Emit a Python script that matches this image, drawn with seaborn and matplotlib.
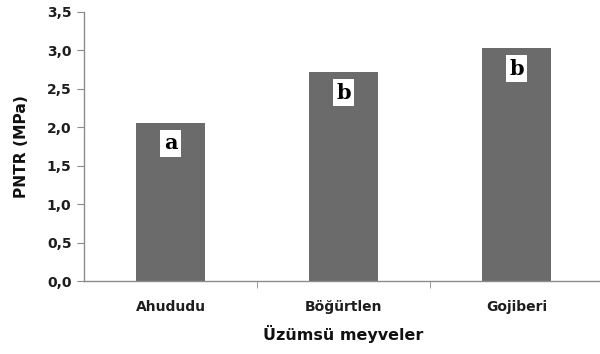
import matplotlib
matplotlib.use("Agg")
import matplotlib.pyplot as plt
import seaborn as sns
import pandas as pd
from matplotlib.ticker import FixedLocator, FixedFormatter

categories = ["Ahududu", "Böğürtlen", "Gojiberi"]
values = [2.06, 2.72, 3.03]
letters = ["a", "b", "b"]
yticks = [0.0, 0.5, 1.0, 1.5, 2.0, 2.5, 3.0, 3.5]
ytick_labels = ["0,0", "0,5", "1,0", "1,5", "2,0", "2,5", "3,0", "3,5"]

sns.set_style("white")
plt.rcParams['font.family'] = ['DejaVu Sans']

df = pd.DataFrame({"cat": categories, "val": values})

fig = plt.figure(figsize=(6, 3.54), dpi=100)
ax = fig.add_axes([0.14, 0.2062, 0.865, 0.76])
sns.barplot(data=df, x="cat", y="val", color="#6b6b6b", saturation=1,
            width=0.4, ax=ax, edgecolor="none")

ax.set_xlim(-0.5, 2.5)
ax.set_ylim(0, 3.5)
ax.yaxis.set_major_locator(FixedLocator(yticks))
ax.yaxis.set_major_formatter(FixedFormatter(ytick_labels))

for i, (v, l) in enumerate(zip(values, letters)):
    ax.text(i, v - 0.14, l, ha="center", va="top", family="DejaVu Serif",
            fontweight="bold", fontsize=15, color="black",
            bbox=dict(facecolor="white", edgecolor="none", pad=2.5))

for s in ["top", "right"]:
    ax.spines[s].set_visible(False)
for s in ["left", "bottom"]:
    ax.spines[s].set_color("#8c8c8c")
    ax.spines[s].set_linewidth(1)

ax.tick_params(axis="y", which="major", left=True, length=5, color="#8c8c8c",
               labelsize=10, labelcolor="#1e1e1e", pad=4)
ax.tick_params(axis="x", which="major", bottom=False, labelsize=10,
               labelcolor="#1e1e1e", pad=10)
ax.xaxis.set_minor_locator(FixedLocator([0.5, 1.5]))
ax.tick_params(axis="x", which="minor", bottom=True, length=5, color="#8c8c8c")

for lab in ax.get_xticklabels() + ax.get_yticklabels():
    lab.set_fontweight("bold")

ax.set_xlabel("Üzümsü meyveler", fontsize=11.5, fontweight="bold",
              color="#111111", labelpad=8)
ax.set_ylabel("PNTR (MPa)", fontsize=11.2, fontweight="bold",
              color="#111111", labelpad=13)

fig.savefig("out.png", dpi=100)
